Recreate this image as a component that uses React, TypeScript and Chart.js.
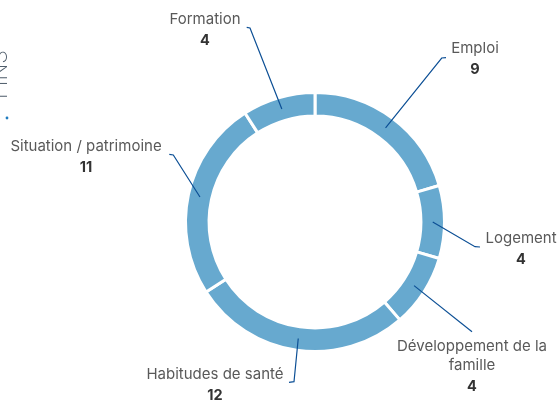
import React, { useEffect, useRef } from "react";
import { Chart, registerables } from "chart.js";

Chart.register(...registerables);

const categories: string[][] = [
  ["Emploi"],
  ["Logement"],
  ["Développement de la", "famille"],
  ["Habitudes de santé"],
  ["Situation / patrimoine"],
  ["Formation"],
];
const values: number[] = [9, 4, 4, 12, 11, 4];
const sideTitle = "FINS";

// label layout: elbow point, hook end, text center x, first baseline y
const labelLayout = [
  { ex: 441.7, ey: 58, hx: 446, hy: 57.7, tx: 475, ty: 53 },
  { ex: 475, ey: 246.7, hx: 480, hy: 247, tx: 521, ty: 243 },
  { ex: 472, ey: 331.7, hx: 472, hy: 331.7, tx: 472, ty: 350.5 },
  { ex: 294, ey: 381.7, hx: 289, hy: 382.3, tx: 215, ty: 379.3 },
  { ex: 173.3, ey: 155, hx: 169.3, hy: 154.3, tx: 86, ty: 151 },
  { ex: 250, ey: 28, hx: 246.7, hy: 27.3, tx: 205, ty: 24 },
];

const FONT = "Inter, 'Open Sans', sans-serif";

const outLabels = {
  id: "outLabels",
  afterDraw(chart: any) {
    const ctx = chart.ctx;
    const meta = chart.getDatasetMeta(0);
    ctx.save();
    meta.data.forEach((arc: any, i: number) => {
      const p = arc.getProps(["x", "y", "startAngle", "endAngle", "innerRadius", "outerRadius"], true);
      const mid = (p.startAngle + p.endAngle) / 2;
      const r = (p.innerRadius + p.outerRadius) / 2;
      const sx = p.x + Math.cos(mid) * r;
      const sy = p.y + Math.sin(mid) * r;
      const L = labelLayout[i];
      ctx.beginPath();
      ctx.strokeStyle = "#0c4f95";
      ctx.lineWidth = 1.2;
      ctx.moveTo(sx, sy);
      ctx.lineTo(L.ex, L.ey);
      ctx.lineTo(L.hx, L.hy);
      ctx.stroke();

      ctx.textAlign = "center";
      ctx.textBaseline = "alphabetic";
      ctx.fillStyle = "#595959";
      ctx.font = `400 15px ${FONT}`;
      const lines = categories[i];
      let y = L.ty;
      lines.forEach((ln) => {
        ctx.fillText(ln, L.tx, y);
        y += 19.5;
      });
      ctx.fillStyle = "#333333";
      ctx.font = `700 14.5px ${FONT}`;
      ctx.fillText(String(values[i]), L.tx, y + 1.5);
    });

    // cropped vertical title at the left edge
    ctx.save();
    ctx.translate(7, 105);
    ctx.rotate(-Math.PI / 2);
    ctx.fillStyle = "#4f5d6b";
    ctx.font = `200 22px ${FONT}`;
    ctx.textAlign = "right";
    ctx.textBaseline = "alphabetic";
    ctx.fillText(sideTitle, 55, 0);
    ctx.restore();

    ctx.beginPath();
    ctx.fillStyle = "#1f7bbf";
    ctx.arc(7, 118, 1.4, 0, Math.PI * 2);
    ctx.fill();
    ctx.restore();
  },
};

export default function App() {
  const ref = useRef<HTMLCanvasElement | null>(null);
  useEffect(() => {
    if (!ref.current) return;
    const chart = new Chart(ref.current, {
      type: "doughnut",
      data: {
        labels: categories.map((c) => c.join(" ")),
        datasets: [
          {
            data: values,
            backgroundColor: "#67a9cf",
            borderColor: "#ffffff",
            borderWidth: 3,
          },
        ],
      },
      options: {
        responsive: false,
        animation: false,
        radius: 129.5,
        cutout: 103.5,
        layout: { padding: { left: 187, right: 117, top: 94, bottom: 51 } },
        plugins: {
          legend: { display: false },
          tooltip: { enabled: false },
        },
      } as any,
      plugins: [outLabels],
    });
    return () => chart.destroy();
  }, []);
  return (
    <div style={{ position: "fixed", left: 0, top: 0, width: 560, height: 401, background: "#fff" }}>
      <canvas ref={ref} width={560} height={401} />
    </div>
  );
}
